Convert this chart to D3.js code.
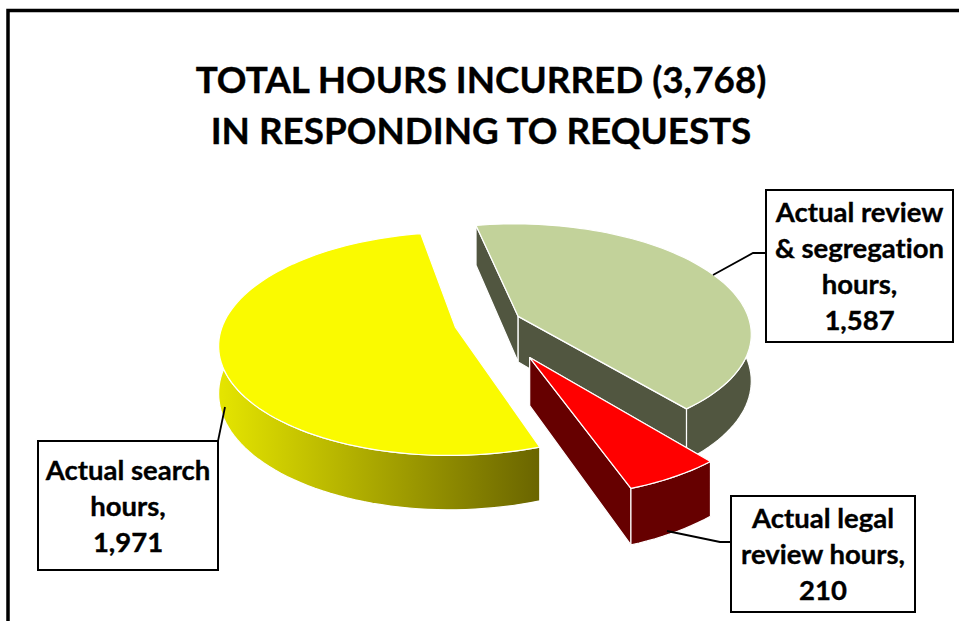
<!DOCTYPE html>
<html>
<head>
<meta charset="utf-8">
<script src="https://cdn.jsdelivr.net/npm/d3@7"></script>
<style>
html, body { margin: 0; padding: 0; background: #fff; }
svg { display: block; }
text { font-family: Lato, "Open Sans", sans-serif; font-weight: 700; fill: #000; stroke: #000; stroke-width: 0.35; font-variant-ligatures: none; }
</style>
</head>
<body>
<svg id="chart" width="959" height="621"></svg>
<script>
// slices, clockwise from the top
var categories = ['Actual review & segregation hours', 'Actual legal review hours', 'Actual search hours'];
var values = [1587, 210, 1971];
var titleLines = ['TOTAL HOURS INCURRED (3,768)', 'IN RESPONDING TO REQUESTS'];
var labelLines = [
	['Actual review', '& segregation', 'hours,', '1,587'],
	['Actual legal', 'review hours,', '210'],
	['Actual search', 'hours,', '1,971']
];

// look of each slice
var topColors = ['#c2d29a', '#ff0000', '#fafa00'];
var wallColors = ['#515640', '#660000', 'url(#yellowWall)'];
var explode = [0.145, 0.35, 0.145];

// label boxes and leader lines
var boxes = [
	{x: 766, y: 190, w: 187, h: 152},
	{x: 731, y: 496, w: 184, h: 116},
	{x: 38, y: 441, w: 180, h: 129}
];
var leaders = [
	[[713, 275], [753, 253], [766, 253]],
	[[667, 531], [720, 542], [731, 542]],
	[[225, 407], [218, 441]]
];

var svg = d3.select('#chart');
var toRad = Math.PI / 180;

// frame is open on the right and at the bottom
svg.append('path')
	.attr('d', 'M8,625V10.5H965')
	.attr('fill', 'none')
	.attr('stroke', '#000')
	.attr('stroke-width', 3.5);

var defs = svg.append('defs');
var grad = defs.append('linearGradient')
	.attr('id', 'yellowWall')
	.attr('gradientUnits', 'userSpaceOnUse')
	.attr('x1', 222).attr('x2', 537)
	.attr('y1', 0).attr('y2', 0);
grad.append('stop').attr('offset', 0).attr('stop-color', '#e4e400');
grad.append('stop').attr('offset', 1).attr('stop-color', '#6b6600');

// the pie lies on a tilted plane, nearer points get bigger
var persp = 0.148;
var depth = 46;
var sx = d3.scaleLinear().domain([-1, 1]).range([488 - 232, 488 + 232]);
var sy = d3.scaleLinear().domain([-1, 1]).range([323 - 108, 323 + 108]);

function project(wx, wy, z){
	var s = 1 / (1 - persp * wy);
	return [sx(wx * s), sy(wy * s) + z * depth * s];
}

var pie = d3.pie().sort(null)
	.startAngle(-11 * toRad)
	.endAngle(349 * toRad);
var arcs = pie(values);
var line = d3.line();

// only this part of the outer wall faces the viewer
var wallFrom = 80 * toRad, wallTo = 280 * toRad;

function rimPoints(d, i, a0, a1, z){
	var mid = (d.startAngle + d.endAngle) / 2;
	var ox = explode[i] * Math.sin(mid);
	var oy = -explode[i] * Math.cos(mid);
	var n = Math.max(2, Math.ceil(Math.abs(a1 - a0) / (toRad * 2)));
	return d3.range(n + 1).map(function(k){
		var a = a0 + (a1 - a0) * k / n;
		return project(ox + Math.sin(a), oy - Math.cos(a), z);
	});
}

function apexPoint(d, i, z){
	var mid = (d.startAngle + d.endAngle) / 2;
	return project(explode[i] * Math.sin(mid), -explode[i] * Math.cos(mid), z);
}

// yellow first, then green, red sits in front
[2, 0, 1].forEach(function(i){
	var d = arcs[i];
	var g = svg.append('g');
	var a0 = d.startAngle, a1 = d.endAngle;
	var w0 = Math.max(a0, wallFrom), w1 = Math.min(a1, wallTo);
	var apexTop = apexPoint(d, i, 0), apexBottom = apexPoint(d, i, 1);
	var startTop = rimPoints(d, i, a0, a0, 0)[0], startBottom = rimPoints(d, i, a0, a0, 1)[0];
	var endTop = rimPoints(d, i, a1, a1, 0)[0], endBottom = rimPoints(d, i, a1, a1, 1)[0];

	var walls = [
		[apexTop, startTop, startBottom, apexBottom],
		[apexTop, endTop, endBottom, apexBottom],
		rimPoints(d, i, w0, w1, 0).concat(rimPoints(d, i, w1, w0, 1))
	];
	g.selectAll('path.wall')
		.data(walls)
		.enter()
		.append('path')
		.attr('class', 'wall')
		.attr('d', function(p){ return line(p) + 'Z'; })
		.attr('fill', wallColors[i])
		.attr('stroke', '#fff')
		.attr('stroke-width', 1.2)
		.attr('stroke-linejoin', 'round');

	g.append('path')
		.attr('d', line([apexTop].concat(rimPoints(d, i, a0, a1, 0))) + 'Z')
		.attr('fill', topColors[i])
		.attr('stroke', '#fff')
		.attr('stroke-width', 1.2)
		.attr('stroke-linejoin', 'round');
});

// leaders under the boxes
svg.selectAll('path.leader')
	.data(leaders)
	.enter()
	.append('path')
	.attr('class', 'leader')
	.attr('d', function(p){ return line(p); })
	.attr('fill', 'none')
	.attr('stroke', '#000')
	.attr('stroke-width', 1.8);

var labels = svg.selectAll('g.label')
	.data(categories)
	.enter()
	.append('g')
	.attr('class', 'label');

labels.append('rect')
	.attr('x', function(d, i){ return boxes[i].x; })
	.attr('y', function(d, i){ return boxes[i].y; })
	.attr('width', function(d, i){ return boxes[i].w; })
	.attr('height', function(d, i){ return boxes[i].h; })
	.attr('fill', '#fff')
	.attr('stroke', '#000')
	.attr('stroke-width', 2);

labels.each(function(d, i){
	var b = boxes[i];
	var n = labelLines[i].length;
	d3.select(this).selectAll('text')
		.data(labelLines[i])
		.enter()
		.append('text')
		.attr('x', b.x + b.w / 2)
		.attr('y', function(t, k){ return b.y + b.h / 2 + (k - (n - 1) / 2) * 36 + 10; })
		.attr('text-anchor', 'middle')
		.attr('font-size', 27.5)
		.text(function(t){ return t; });
});

svg.selectAll('text.title')
	.data(titleLines)
	.enter()
	.append('text')
	.attr('class', 'title')
	.attr('x', 481)
	.attr('y', function(t, i){ return 93 + i * 51; })
	.attr('text-anchor', 'middle')
	.attr('font-size', 36.8)
	.text(function(t){ return t; });
</script>
</body>
</html>
